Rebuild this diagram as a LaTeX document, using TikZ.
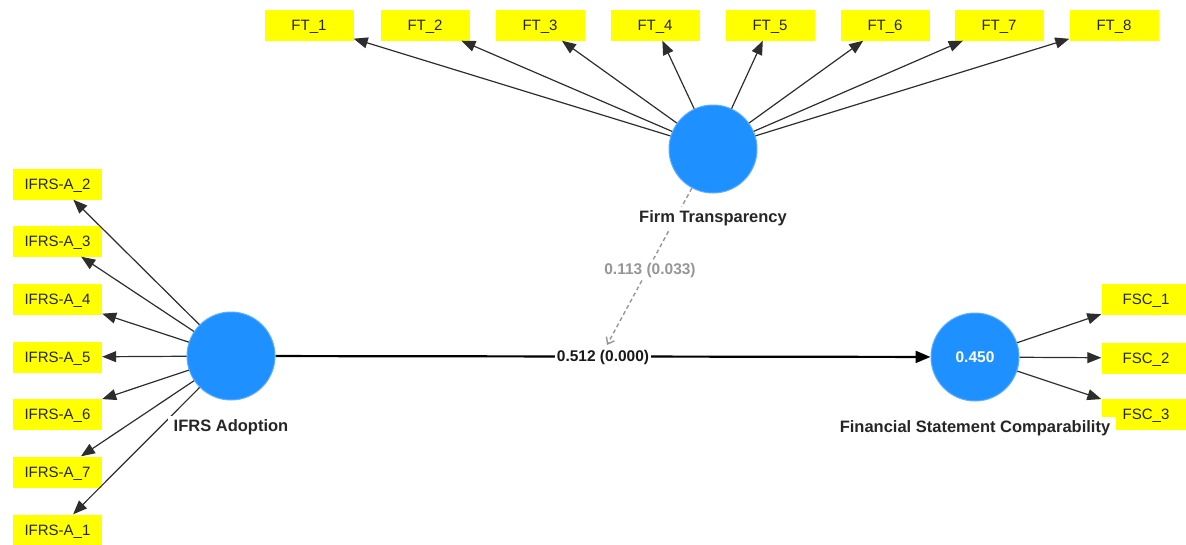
\documentclass[tikz,border=0pt]{standalone}
\usepackage{fontspec}
\setmainfont{Liberation Sans}
\usetikzlibrary{arrows.meta}
\definecolor{lvblue}{RGB}{30,144,255}
\definecolor{lvedge}{RGB}{90,175,255}
\definecolor{indyellow}{RGB}{255,255,0}
\definecolor{linegray}{RGB}{45,45,45}
\definecolor{modgray}{RGB}{150,150,150}
\tikzset{
  indbox/.style={fill=indyellow, minimum width=89pt, minimum height=31pt, inner sep=0pt,
    text height=10.7pt, text depth=0pt,
    font=\fontsize{15}{18}\selectfont, text=black!85},
  latent/.style={circle, fill=lvblue, draw=lvedge, line width=1pt, minimum size=88pt, inner sep=0pt,
    text height=11pt, text depth=0pt,
    font=\bfseries\fontsize{15.5}{18}\selectfont, text=white},
  lvlabel/.style={fill=white, inner xsep=6pt, inner ysep=3pt, text height=12pt, text depth=3.5pt,
    font=\bfseries\fontsize{16.5}{19}\selectfont, text=black!85},
  loading/.style={draw=linegray, line width=1.2pt, -{Triangle[length=14pt,width=11pt]}},
  pathline/.style={draw=black, line width=2.2pt, -{Triangle[length=15pt,width=12pt]}},
  modline/.style={draw=modgray, line width=1.4pt, dash pattern=on 4pt off 3pt, -{Straight Barb[length=6pt,width=9pt]}},
  coef/.style={fill=white, inner sep=2pt, text height=11pt, text depth=3pt, font=\bfseries\fontsize{15.5}{18}\selectfont}
}
\begin{document}
\begin{tikzpicture}[x=1pt,y=-1pt]
\useasboundingbox (0,0) rectangle (1186,544);
% latent variables
\node[latent] (ft) at (713,149) {};
\node[latent] (ifrs) at (231,356) {};
\node[latent] (fsc) at (975,357) {0.450};
% FT indicators
\foreach \i/\x in {1/309,2/425,3/540,4/655,5/770,6/885,7/999,8/1114}{
  \node[indbox] (ft\i) at (\x,25) {FT\_\i};
}
% IFRS indicators
\foreach \n/\y in {2/184,3/241,4/299,5/357,6/414,7/472,1/530}{
  \node[indbox] (ia\n) at (57.5,\y) {IFRS-A\_\n};
}
% FSC indicators
\node[indbox] (fsc1) at (1146,299) {FSC\_1};
\node[indbox] (fsc2) at (1146,358) {FSC\_2};
\node[indbox] (fsc3) at (1146,414) {FSC\_3};
% loadings
\foreach \i in {1,...,8}{ \draw[loading] (ft) -- (ft\i); }
\foreach \n in {1,...,7}{ \draw[loading] (ifrs) -- (ia\n); }
\foreach \n in {1,2,3}{ \draw[loading] (fsc) -- (fsc\n); }
% structural path
\draw[pathline] (ifrs) -- (fsc);
\coordinate (mod) at (607,345);
\draw[modline] (ft) -- (mod);
% labels
\node[coef, text=black!90] (p1) at (603,357) {0.512 (0.000)};
\node[coef, text=modgray] (p2) at (650,270) {0.113 (0.033)};
\node[lvlabel] (ftl) at (713,218) {Firm Transparency};
\node[lvlabel] (ifrsl) at (231,427) {IFRS Adoption};
\node[lvlabel] (fscl) at (975,428) {Financial Statement Comparability};
\end{tikzpicture}
\end{document}
